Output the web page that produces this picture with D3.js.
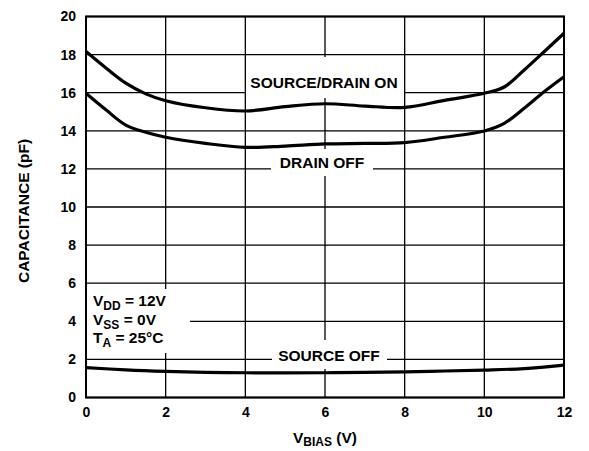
<!DOCTYPE html>
<html><head><meta charset="utf-8">
<script src="https://cdn.jsdelivr.net/npm/d3@7"></script>
<style>body{margin:0;background:#fff}text{font-family:"Liberation Sans",Arial,sans-serif;font-weight:bold;fill:#000}</style>
</head><body>
<svg id="c" width="589" height="451"></svg>
<script>
const xTicks = [0, 2, 4, 6, 8, 10, 12];
const yTicks = [0, 2, 4, 6, 8, 10, 12, 14, 16, 18, 20];
const sdOnX = [0, 0.5, 1, 1.5, 2, 3, 4, 5, 6, 7, 8, 9, 10, 10.5, 11, 11.5, 12];
const sdOnY = [18.16, 17.3, 16.5, 15.94, 15.58, 15.21, 15.04, 15.27, 15.42, 15.3, 15.23, 15.6, 15.97, 16.3, 17.19, 18.15, 19.12];
const dOffX = [0, 0.5, 1, 1.5, 2, 3, 4, 5, 6, 7, 8, 9, 10, 10.5, 11, 11.5, 12];
const dOffY = [15.97, 15.1, 14.3, 13.92, 13.66, 13.34, 13.13, 13.2, 13.31, 13.34, 13.38, 13.66, 13.99, 14.39, 15.18, 16.05, 16.84];
const sOffX = [0, 1, 2, 3, 4, 5, 6, 7, 8, 9, 10, 11, 12];
const sOffY = [1.57, 1.45, 1.37, 1.32, 1.30, 1.29, 1.30, 1.32, 1.35, 1.39, 1.44, 1.52, 1.7];

const svg = d3.select("#c");
const L = 86, R = 564, T = 16.5, B = 397.5;
const x = d3.scaleLinear().domain([0, 12]).range([L, R]);
const y = d3.scaleLinear().domain([0, 20]).range([B, T]);

// grid
const g = svg.append("g");
g.selectAll(".vx").data(xTicks).enter().append("line")
  .attr("x1", d => x(d)).attr("x2", d => x(d)).attr("y1", T).attr("y2", B)
  .attr("stroke", "#000").attr("stroke-width", 1.3);
g.selectAll(".hy").data(yTicks).enter().append("line")
  .attr("x1", L).attr("x2", R).attr("y1", d => y(d)).attr("y2", d => y(d))
  .attr("stroke", "#000").attr("stroke-width", 1.3);

// white label boxes
const boxes = [[246, 57, 158, 41], [271, 149, 102, 27], [272, 340, 115, 29], [87, 289, 103, 64]];
svg.selectAll(".box").data(boxes).enter().append("rect")
  .attr("x", d => d[0]).attr("y", d => d[1]).attr("width", d => d[2]).attr("height", d => d[3])
  .attr("fill", "#fff");

// curves
const line = d3.line().x(d => x(d[0])).y(d => y(d[1])).curve(d3.curveCatmullRom.alpha(0.5));
[[sdOnX, sdOnY], [dOffX, dOffY], [sOffX, sOffY]].forEach(([xs, ys]) => {
  svg.append("path").datum(xs.map((v, i) => [v, ys[i]]))
    .attr("d", line).attr("fill", "none").attr("stroke", "#000").attr("stroke-width", 3.2);
});

// border
svg.append("rect").attr("x", L).attr("y", T).attr("width", R - L).attr("height", B - T)
  .attr("fill", "none").attr("stroke", "#000").attr("stroke-width", 2);

// axes tick labels
const xAxis = d3.axisBottom(x).tickValues(xTicks).tickSize(0).tickPadding(10);
const xa = svg.append("g").attr("transform", `translate(0,${B})`).call(xAxis);
xa.select(".domain").remove();
xa.selectAll("text").attr("font-size", 14).attr("font-family", "Liberation Sans").attr("font-weight", "bold").attr("fill", "#000");
const yAxis = d3.axisLeft(y).tickValues(yTicks).tickSize(0).tickPadding(10);
const ya = svg.append("g").attr("transform", `translate(${L},0)`).call(yAxis);
ya.select(".domain").remove();
ya.selectAll("text").attr("font-size", 14).attr("font-family", "Liberation Sans").attr("font-weight", "bold").attr("fill", "#000");

// series labels
svg.append("text").attr("x", 324).attr("y", 88).attr("text-anchor", "middle").attr("font-size", 15.5).text("SOURCE/DRAIN ON");
svg.append("text").attr("x", 322).attr("y", 168).attr("text-anchor", "middle").attr("font-size", 15.5).text("DRAIN OFF");
svg.append("text").attr("x", 329).attr("y", 361).attr("text-anchor", "middle").attr("font-size", 15.5).text("SOURCE OFF");

// conditions
const cond = [["V", "DD", " = 12V"], ["V", "SS", " = 0V"], ["T", "A", " = 25°C"]];
cond.forEach((c, i) => {
  const t = svg.append("text").attr("x", 93).attr("y", 306 + i * 18.6).attr("font-size", 15.5);
  t.append("tspan").text(c[0]);
  t.append("tspan").attr("font-size", 12).attr("dy", 4).text(c[1]);
  t.append("tspan").attr("dy", -4).text(c[2]);
});

// axis titles
const xt = svg.append("text").attr("x", 325).attr("y", 443).attr("text-anchor", "middle").attr("font-size", 15.5);
xt.append("tspan").text("V");
xt.append("tspan").attr("font-size", 12).attr("dy", 3).text("BIAS");
xt.append("tspan").attr("dy", -3).text(" (V)");
svg.append("text").attr("transform", "translate(29,211) rotate(-90)").attr("text-anchor", "middle")
  .attr("font-size", 15.5).text("CAPACITANCE (pF)");
</script>
</body></html>
